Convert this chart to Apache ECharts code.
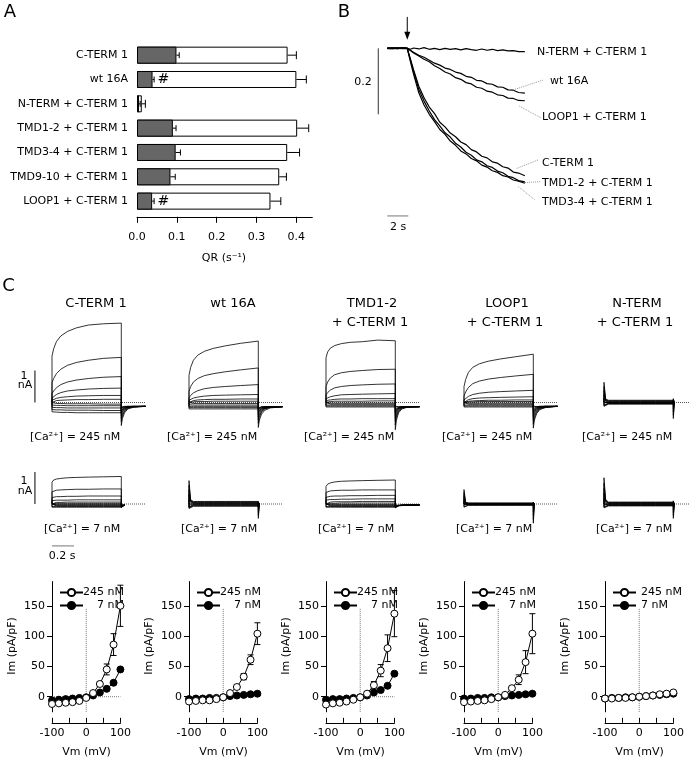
<!DOCTYPE html>
<html><head><meta charset="utf-8">
<script src="https://cdn.jsdelivr.net/npm/echarts@6/dist/echarts.min.js"></script>
<style>html,body{margin:0;padding:0;background:#fff}#c{width:700px;height:760px}</style>
</head><body><div id="c"></div>
<script>
const FONT = 'DejaVu Sans';
// ---------- Panel A ----------
const aCategories = ['C-TERM 1','wt 16A','N-TERM + C-TERM 1','TMD1-2 + C-TERM 1','TMD3-4 + C-TERM 1','TMD9-10 + C-TERM 1','LOOP1 + C-TERM 1'];
const aTotal    = [0.378, 0.400, 0.012, 0.402, 0.377, 0.357, 0.335];
const aTotalErr = [0.022, 0.025, 0.009, 0.029, 0.031, 0.018, 0.026];
const aFast     = [0.099, 0.039, 0.005, 0.090, 0.097, 0.084, 0.038];
const aFastErr  = [0.007, 0.004, 0.003, 0.008, 0.012, 0.012, 0.005];
const aHashCats = ['wt 16A', 'LOOP1 + C-TERM 1'];
const aHashX    = [0.066, 0.066];
const aTicks    = [0, 0.1, 0.2, 0.3, 0.4];
// ---------- Panel B ----------
const bTime = [0,0.5,1,1.5,1.9,2.2,2.5,3,3.5,4,4.5,5,5.5,6,6.5,7,7.5,8,8.5,9,9.5,10,10.5,11,11.5,12,12.5,13.1];
const bNterm = [0,0.001,-0.001,0.001,0,-0.003,0.001,-0.002,0.002,-0.003,0,-0.004,0,-0.003,-0.001,-0.005,-0.001,-0.004,-0.006,-0.002,-0.006,-0.003,-0.007,-0.005,-0.008,-0.007,-0.010,-0.010];
const bWt    = [0,-0.001,0.001,0,0,-0.006,-0.012,-0.021,-0.027,-0.036,-0.045,-0.051,-0.060,-0.064,-0.072,-0.076,-0.085,-0.088,-0.097,-0.099,-0.107,-0.109,-0.117,-0.118,-0.126,-0.127,-0.134,-0.136];
const bLoop  = [0.001,0,-0.001,0.001,0,-0.007,-0.014,-0.023,-0.033,-0.041,-0.053,-0.061,-0.072,-0.078,-0.089,-0.094,-0.104,-0.108,-0.118,-0.121,-0.130,-0.133,-0.141,-0.143,-0.151,-0.152,-0.158,-0.159];
const bCterm = [0,0.001,0,-0.001,0,-0.032,-0.065,-0.115,-0.150,-0.178,-0.198,-0.224,-0.238,-0.257,-0.268,-0.284,-0.292,-0.307,-0.314,-0.327,-0.332,-0.344,-0.348,-0.359,-0.363,-0.375,-0.378,-0.386];
const bTmd12 = [-0.001,0,0.001,0,0,-0.035,-0.070,-0.125,-0.160,-0.190,-0.216,-0.235,-0.256,-0.269,-0.288,-0.299,-0.315,-0.324,-0.338,-0.344,-0.356,-0.361,-0.372,-0.377,-0.388,-0.392,-0.401,-0.405];
const bTmd34 = [0,-0.001,0,0.001,0,-0.040,-0.078,-0.135,-0.172,-0.200,-0.222,-0.246,-0.261,-0.281,-0.294,-0.311,-0.320,-0.334,-0.341,-0.354,-0.360,-0.371,-0.376,-0.386,-0.390,-0.399,-0.403,-0.409];
// ---------- Panel C current families (nA), voltage steps -100..+100 mV ----------
const cVolt = [-100,-80,-60,-40,-20,0,20,40,60,80,100];
const cTime = [0,0,0.015,0.04,0.08,0.14,0.22,0.33,0.47,0.63,0.63,0.64,0.66,0.69,0.74,0.85];
const ct245 = [
 [0,-0.29,-0.30,-0.30,-0.31,-0.31,-0.32,-0.32,-0.32,-0.32,-0.14,-0.13,-0.12,-0.12,-0.12,-0.12],
 [0,-0.22,-0.22,-0.23,-0.23,-0.24,-0.24,-0.24,-0.25,-0.25,-0.16,-0.14,-0.13,-0.12,-0.12,-0.12],
 [0,-0.15,-0.15,-0.16,-0.16,-0.17,-0.17,-0.17,-0.17,-0.17,-0.19,-0.16,-0.14,-0.13,-0.12,-0.12],
 [0,-0.08,-0.08,-0.09,-0.09,-0.10,-0.10,-0.10,-0.10,-0.10,-0.22,-0.18,-0.15,-0.13,-0.12,-0.12],
 [0,-0.02,-0.02,-0.03,-0.03,-0.04,-0.04,-0.04,-0.05,-0.05,-0.26,-0.20,-0.16,-0.14,-0.13,-0.12],
 [0,0.03,0.04,0.06,0.07,0.08,0.09,0.09,0.10,0.10,-0.30,-0.23,-0.18,-0.14,-0.13,-0.12],
 [0,0.07,0.10,0.13,0.16,0.18,0.20,0.21,0.22,0.22,-0.35,-0.26,-0.19,-0.15,-0.13,-0.12],
 [0,0.14,0.19,0.25,0.31,0.36,0.39,0.42,0.44,0.45,-0.42,-0.30,-0.21,-0.16,-0.13,-0.12],
 [0,0.28,0.36,0.46,0.56,0.64,0.70,0.75,0.79,0.81,-0.50,-0.36,-0.24,-0.17,-0.13,-0.12],
 [0,0.62,0.75,0.90,1.04,1.16,1.25,1.32,1.38,1.41,-0.60,-0.42,-0.27,-0.18,-0.14,-0.12],
 [0,1.45,1.68,1.90,2.08,2.22,2.33,2.42,2.46,2.48,-0.72,-0.50,-0.32,-0.20,-0.15,-0.12]];
const wt245 = [
 [0,-0.20,-0.20,-0.20,-0.20,-0.20,-0.20,-0.20,-0.20,-0.20,-0.15,-0.14,-0.13,-0.13,-0.13,-0.13],
 [0,-0.16,-0.16,-0.16,-0.16,-0.16,-0.16,-0.16,-0.16,-0.16,-0.17,-0.15,-0.14,-0.13,-0.13,-0.13],
 [0,-0.12,-0.12,-0.12,-0.12,-0.12,-0.12,-0.12,-0.12,-0.12,-0.20,-0.17,-0.15,-0.14,-0.13,-0.13],
 [0,-0.07,-0.07,-0.08,-0.08,-0.08,-0.08,-0.08,-0.08,-0.08,-0.23,-0.19,-0.16,-0.14,-0.13,-0.13],
 [0,-0.03,-0.03,-0.03,-0.03,-0.03,-0.03,-0.03,-0.03,-0.03,-0.27,-0.22,-0.18,-0.15,-0.14,-0.13],
 [0,0.01,0.02,0.02,0.03,0.03,0.04,0.04,0.04,0.04,-0.32,-0.25,-0.19,-0.16,-0.14,-0.13],
 [0,0.03,0.05,0.06,0.08,0.09,0.10,0.10,0.11,0.11,-0.38,-0.29,-0.21,-0.17,-0.14,-0.13],
 [0,0.07,0.10,0.14,0.17,0.20,0.22,0.23,0.24,0.25,-0.45,-0.34,-0.24,-0.18,-0.14,-0.13],
 [0,0.15,0.22,0.30,0.37,0.43,0.47,0.50,0.53,0.56,-0.54,-0.40,-0.27,-0.19,-0.15,-0.13],
 [0,0.35,0.50,0.64,0.75,0.84,0.90,0.96,1.02,1.08,-0.65,-0.46,-0.30,-0.20,-0.15,-0.13],
 [0,0.85,1.10,1.32,1.48,1.60,1.69,1.77,1.85,1.92,-0.78,-0.55,-0.36,-0.24,-0.17,-0.13]];
const tm245 = [
 [0,-0.14,-0.14,-0.14,-0.14,-0.14,-0.14,-0.14,-0.14,-0.14,-0.15,-0.14,-0.13,-0.13,-0.13,-0.13],
 [0,-0.11,-0.11,-0.11,-0.11,-0.11,-0.11,-0.11,-0.11,-0.11,-0.17,-0.15,-0.14,-0.13,-0.13,-0.13],
 [0,-0.08,-0.08,-0.08,-0.08,-0.08,-0.08,-0.08,-0.08,-0.08,-0.20,-0.17,-0.15,-0.14,-0.13,-0.13],
 [0,-0.05,-0.05,-0.05,-0.05,-0.05,-0.05,-0.05,-0.05,-0.05,-0.24,-0.19,-0.16,-0.14,-0.13,-0.13],
 [0,-0.02,-0.02,-0.02,-0.02,-0.02,-0.02,-0.02,-0.02,-0.02,-0.28,-0.22,-0.17,-0.14,-0.13,-0.13],
 [0,0.02,0.03,0.03,0.04,0.04,0.04,0.04,0.05,0.05,-0.33,-0.25,-0.18,-0.15,-0.13,-0.13],
 [0,0.05,0.07,0.08,0.10,0.11,0.11,0.12,0.12,0.12,-0.40,-0.28,-0.20,-0.15,-0.14,-0.13],
 [0,0.12,0.15,0.18,0.21,0.24,0.25,0.26,0.27,0.28,-0.48,-0.33,-0.22,-0.16,-0.14,-0.13],
 [0,0.24,0.31,0.39,0.46,0.50,0.53,0.55,0.57,0.58,-0.58,-0.39,-0.25,-0.17,-0.14,-0.13],
 [0,0.50,0.64,0.77,0.87,0.93,0.97,1.00,1.03,1.04,-0.70,-0.46,-0.28,-0.18,-0.14,-0.13],
 [0,1.40,1.58,1.70,1.78,1.84,1.88,1.90,1.95,1.93,-0.85,-0.55,-0.32,-0.20,-0.15,-0.13]];
const lp245 = [
 [0,-0.14,-0.14,-0.14,-0.14,-0.14,-0.14,-0.14,-0.14,-0.14,-0.15,-0.14,-0.13,-0.12,-0.12,-0.12],
 [0,-0.11,-0.11,-0.11,-0.11,-0.11,-0.11,-0.11,-0.11,-0.11,-0.17,-0.15,-0.13,-0.12,-0.12,-0.12],
 [0,-0.08,-0.08,-0.08,-0.08,-0.08,-0.08,-0.08,-0.08,-0.08,-0.20,-0.17,-0.14,-0.13,-0.12,-0.12],
 [0,-0.05,-0.05,-0.05,-0.05,-0.05,-0.05,-0.05,-0.05,-0.05,-0.24,-0.19,-0.15,-0.13,-0.12,-0.12],
 [0,-0.02,-0.02,-0.02,-0.02,-0.02,-0.02,-0.02,-0.02,-0.02,-0.28,-0.22,-0.17,-0.14,-0.12,-0.12],
 [0,0.01,0.02,0.02,0.02,0.03,0.03,0.03,0.03,0.03,-0.34,-0.25,-0.19,-0.15,-0.13,-0.12],
 [0,0.02,0.03,0.04,0.05,0.06,0.07,0.07,0.08,0.08,-0.40,-0.29,-0.21,-0.16,-0.13,-0.12],
 [0,0.04,0.06,0.09,0.12,0.14,0.15,0.16,0.17,0.18,-0.48,-0.34,-0.24,-0.17,-0.14,-0.12],
 [0,0.08,0.13,0.19,0.25,0.29,0.32,0.34,0.36,0.38,-0.57,-0.40,-0.27,-0.18,-0.14,-0.12],
 [0,0.20,0.33,0.47,0.59,0.67,0.73,0.78,0.83,0.88,-0.68,-0.47,-0.31,-0.20,-0.15,-0.12],
 [0,0.50,0.72,0.94,1.10,1.21,1.29,1.36,1.43,1.51,-0.80,-0.55,-0.35,-0.22,-0.16,-0.12]];
const nt245 = [
 [0,-0.12,-0.06,-0.05,-0.05,-0.05,-0.05,-0.05,-0.05,-0.05,0.12,0,null,null,null,null],
 [0,-0.10,-0.05,-0.04,-0.04,-0.04,-0.04,-0.04,-0.04,-0.04,0.10,0,null,null,null,null],
 [0,-0.08,-0.04,-0.03,-0.03,-0.03,-0.03,-0.03,-0.03,-0.03,0.08,0,null,null,null,null],
 [0,-0.06,-0.03,-0.02,-0.02,-0.02,-0.02,-0.02,-0.02,-0.02,0.06,0,null,null,null,null],
 [0,-0.03,-0.02,-0.01,-0.01,-0.01,-0.01,-0.01,-0.01,-0.01,0.04,0,null,null,null,null],
 [0,0.03,0.01,0.00,0.00,0.00,0.00,0.00,0.00,0.00,-0.02,0,null,null,null,null],
 [0,0.13,0.03,0.012,0.012,0.012,0.012,0.012,0.012,0.012,-0.10,0,null,null,null,null],
 [0,0.25,0.05,0.025,0.025,0.025,0.025,0.025,0.025,0.025,-0.20,0,null,null,null,null],
 [0,0.38,0.07,0.04,0.04,0.04,0.04,0.04,0.04,0.04,-0.30,0,null,null,null,null],
 [0,0.50,0.09,0.055,0.055,0.055,0.055,0.055,0.055,0.055,-0.40,0,null,null,null,null],
 [0,0.63,0.11,0.07,0.07,0.07,0.07,0.07,0.07,0.07,-0.50,0,null,null,null,null]];
const ct7 = [
 [0,-0.10,-0.10,-0.10,-0.10,-0.10,-0.10,-0.10,-0.10,-0.10,-0.06,-0.04,-0.03,null,null,null],
 [0,-0.08,-0.08,-0.08,-0.08,-0.08,-0.08,-0.08,-0.08,-0.08,-0.07,-0.04,-0.03,null,null,null],
 [0,-0.06,-0.06,-0.06,-0.06,-0.06,-0.06,-0.06,-0.06,-0.06,-0.07,-0.04,-0.03,null,null,null],
 [0,-0.04,-0.04,-0.04,-0.04,-0.04,-0.04,-0.04,-0.04,-0.04,-0.08,-0.05,-0.03,null,null,null],
 [0,-0.02,-0.02,-0.02,-0.02,-0.02,-0.02,-0.02,-0.02,-0.02,-0.08,-0.05,-0.03,null,null,null],
 [0,0.01,0.02,0.02,0.02,0.02,0.02,0.02,0.02,0.02,-0.09,-0.05,-0.03,null,null,null],
 [0,0.04,0.05,0.05,0.05,0.06,0.06,0.06,0.06,0.06,-0.09,-0.05,-0.03,null,null,null],
 [0,0.10,0.11,0.12,0.12,0.12,0.13,0.13,0.13,0.13,-0.09,-0.05,-0.03,null,null,null],
 [0,0.20,0.22,0.23,0.23,0.24,0.24,0.25,0.25,0.25,-0.10,-0.06,-0.03,null,null,null],
 [0,0.38,0.41,0.43,0.44,0.45,0.46,0.46,0.47,0.47,-0.10,-0.06,-0.03,null,null,null],
 [0,0.68,0.75,0.78,0.80,0.82,0.83,0.84,0.85,0.86,-0.11,-0.06,-0.03,null,null,null]];
const wt7 = [
 [0,-0.14,-0.08,-0.07,-0.07,-0.07,-0.07,-0.07,-0.07,-0.07,0.07,0,null,null,null,null],
 [0,-0.12,-0.065,-0.055,-0.055,-0.055,-0.055,-0.055,-0.055,-0.055,0.06,0,null,null,null,null],
 [0,-0.10,-0.05,-0.04,-0.04,-0.04,-0.04,-0.04,-0.04,-0.04,0.05,0,null,null,null,null],
 [0,-0.08,-0.035,-0.025,-0.025,-0.025,-0.025,-0.025,-0.025,-0.025,0.04,0,null,null,null,null],
 [0,-0.05,-0.02,-0.01,-0.01,-0.01,-0.01,-0.01,-0.01,-0.01,0.02,0,null,null,null,null],
 [0,0.03,0.02,0.005,0.005,0.005,0.005,0.005,0.005,0.005,-0.04,0,null,null,null,null],
 [0,0.16,0.05,0.02,0.02,0.02,0.02,0.02,0.02,0.02,-0.11,0,null,null,null,null],
 [0,0.30,0.07,0.035,0.035,0.035,0.035,0.035,0.035,0.035,-0.19,0,null,null,null,null],
 [0,0.44,0.09,0.05,0.05,0.05,0.05,0.05,0.05,0.05,-0.27,0,null,null,null,null],
 [0,0.58,0.11,0.065,0.065,0.065,0.065,0.065,0.065,0.065,-0.36,0,null,null,null,null],
 [0,0.73,0.13,0.08,0.08,0.08,0.08,0.08,0.08,0.08,-0.45,0,null,null,null,null]];
const tm7 = [
 [0,-0.10,-0.10,-0.10,-0.10,-0.10,-0.10,-0.10,-0.10,-0.10,-0.06,-0.05,-0.04,-0.04,-0.03,-0.03],
 [0,-0.08,-0.08,-0.08,-0.08,-0.08,-0.08,-0.08,-0.08,-0.08,-0.07,-0.05,-0.04,-0.04,-0.03,-0.03],
 [0,-0.06,-0.06,-0.06,-0.06,-0.06,-0.06,-0.06,-0.06,-0.06,-0.07,-0.05,-0.04,-0.04,-0.03,-0.03],
 [0,-0.04,-0.04,-0.04,-0.04,-0.04,-0.04,-0.04,-0.04,-0.04,-0.08,-0.06,-0.05,-0.04,-0.03,-0.03],
 [0,-0.02,-0.02,-0.02,-0.02,-0.02,-0.02,-0.02,-0.02,-0.02,-0.08,-0.06,-0.05,-0.04,-0.03,-0.03],
 [0,0.01,0.02,0.02,0.02,0.03,0.03,0.03,0.03,0.03,-0.09,-0.06,-0.05,-0.04,-0.03,-0.03],
 [0,0.05,0.06,0.06,0.07,0.07,0.07,0.08,0.08,0.08,-0.09,-0.06,-0.05,-0.04,-0.03,-0.03],
 [0,0.12,0.13,0.14,0.14,0.15,0.15,0.16,0.16,0.16,-0.10,-0.07,-0.05,-0.04,-0.04,-0.03],
 [0,0.21,0.23,0.24,0.25,0.25,0.26,0.26,0.27,0.27,-0.10,-0.07,-0.05,-0.04,-0.04,-0.03],
 [0,0.36,0.39,0.41,0.42,0.43,0.43,0.44,0.44,0.44,-0.11,-0.07,-0.05,-0.04,-0.04,-0.03],
 [0,0.55,0.62,0.66,0.69,0.71,0.72,0.73,0.74,0.75,-0.12,-0.08,-0.06,-0.05,-0.04,-0.03]];
const lp7 = [
 [0,-0.10,-0.05,-0.04,-0.04,-0.04,-0.04,-0.04,-0.04,-0.04,0.06,0,null,null,null,null],
 [0,-0.08,-0.04,-0.032,-0.032,-0.032,-0.032,-0.032,-0.032,-0.032,0.05,0,null,null,null,null],
 [0,-0.06,-0.03,-0.024,-0.024,-0.024,-0.024,-0.024,-0.024,-0.024,0.04,0,null,null,null,null],
 [0,-0.04,-0.02,-0.016,-0.016,-0.016,-0.016,-0.016,-0.016,-0.016,0.03,0,null,null,null,null],
 [0,-0.02,-0.01,-0.008,-0.008,-0.008,-0.008,-0.008,-0.008,-0.008,0.02,0,null,null,null,null],
 [0,0.02,0.005,0,0,0,0,0,0,0,-0.02,0,null,null,null,null],
 [0,0.09,0.015,0.006,0.006,0.006,0.006,0.006,0.006,0.006,-0.12,0,null,null,null,null],
 [0,0.18,0.025,0.012,0.012,0.012,0.012,0.012,0.012,0.012,-0.24,0,null,null,null,null],
 [0,0.27,0.035,0.018,0.018,0.018,0.018,0.018,0.018,0.018,-0.36,0,null,null,null,null],
 [0,0.36,0.045,0.024,0.024,0.024,0.024,0.024,0.024,0.024,-0.48,0,null,null,null,null],
 [0,0.45,0.055,0.03,0.03,0.03,0.03,0.03,0.03,0.03,-0.60,0,null,null,null,null]];
const nt7 = [
 [0,-0.12,-0.08,-0.06,-0.06,-0.06,-0.06,-0.06,-0.06,-0.06,0.10,0,null,null,null,null],
 [0,-0.10,-0.065,-0.048,-0.048,-0.048,-0.048,-0.048,-0.048,-0.048,0.08,0,null,null,null,null],
 [0,-0.08,-0.05,-0.036,-0.036,-0.036,-0.036,-0.036,-0.036,-0.036,0.06,0,null,null,null,null],
 [0,-0.06,-0.035,-0.024,-0.024,-0.024,-0.024,-0.024,-0.024,-0.024,0.05,0,null,null,null,null],
 [0,-0.03,-0.02,-0.012,-0.012,-0.012,-0.012,-0.012,-0.012,-0.012,0.03,0,null,null,null,null],
 [0,0.03,0.01,0,0,0,0,0,0,0,-0.02,0,null,null,null,null],
 [0,0.17,0.04,0.012,0.012,0.012,0.012,0.012,0.012,0.012,-0.09,0,null,null,null,null],
 [0,0.33,0.07,0.024,0.024,0.024,0.024,0.024,0.024,0.024,-0.18,0,null,null,null,null],
 [0,0.49,0.10,0.036,0.036,0.036,0.036,0.036,0.036,0.036,-0.27,0,null,null,null,null],
 [0,0.65,0.12,0.048,0.048,0.048,0.048,0.048,0.048,0.048,-0.36,0,null,null,null,null],
 [0,0.82,0.14,0.06,0.06,0.06,0.06,0.06,0.06,0.06,-0.45,0,null,null,null,null]];
const cTitles = [['C-TERM 1'], ['wt 16A'], ['TMD1-2','+ C-TERM 1'], ['LOOP1','+ C-TERM 1'], ['N-TERM','+ C-TERM 1']];
// ---------- IV curves ----------
const ivV = [-100,-80,-60,-40,-20,0,20,40,60,80,100];
const iv245 = [
 [-12,-11,-10,-9,-7,-2,6,21,45,86,150],
 [-8,-7,-6,-6,-4,-1,6,16,33,61,104],
 [-13,-11,-10,-8,-5,-1,5,19,43,80,137],
 [-9,-8,-7,-6,-4,-1,3,14,28,57,104],
 [-3,-3,-2,-2,-1,0,1,2,4,5,7]];
const iv245Err = [
 [0,0,0,0,0,0,2,4,9,18,34],
 [0,0,0,0,0,0,0,3,5,8,18],
 [0,0,0,0,0,0,2,6,10,22,38],
 [0,0,0,0,0,0,0,3,8,19,33],
 [0,0,0,0,0,0,0,0,0,0,0]];
const iv7 = [
 [-6,-5,-4,-3,-2,-1,2,7,13,23,45],
 [-4,-3,-3,-2,-2,-1,1,2,3,4,5],
 [-5,-4,-4,-3,-2,-1,2,7,11,18,38],
 [-3,-3,-2,-2,-1,-1,1,2,3,4,5],
 [-3,-2,-2,-1,-1,0,1,2,3,4,5]];
const ivYTicks = [0,50,100,150];

// ---------- layout ----------
const famX = [52, 189, 326, 464, 604];
const stepEnd = 0.63;
const grids = [], xAxes = [], yAxes = [], series = [], graphic = [], legends = [];
function T(text, x, y, o) {
  o = o || {};
  graphic.push({type:'text', x:x, y:y, rotation:o.rot||0, z:100, silent:true,
    style:{text:text, fill:'#000', fontFamily:FONT, fontSize:o.size||11, align:o.align||'center', verticalAlign:'middle'}});
}
// grid 0 : panel A
grids.push({left:137, top:43, width:175.3, height:170.3, outerBoundsMode:'none'});
xAxes.push({type:'value', gridIndex:0, min:0, max:0.44, offset:3.5,
  axisLine:{show:true, lineStyle:{color:'#000', width:1}},
  axisTick:{show:true, length:6, customValues:aTicks, lineStyle:{color:'#000'}},
  axisLabel:{customValues:aTicks, formatter:v=>v.toFixed(1), color:'#000', fontSize:11, margin:15, fontFamily:FONT},
  splitLine:{show:false}});
yAxes.push({type:'category', gridIndex:0, data:aCategories, inverse:true,
  axisLine:{show:false}, axisTick:{show:false},
  axisLabel:{color:'#000', fontSize:11, margin:9, fontFamily:FONT}, splitLine:{show:false}});
series.push({type:'bar', xAxisIndex:0, yAxisIndex:0, data:aTotal, barWidth:17, barGap:'-100%', z:2,
  itemStyle:{color:'#fff', borderColor:'#000', borderWidth:1}});
series.push({type:'bar', xAxisIndex:0, yAxisIndex:0, data:aFast, barWidth:17, barGap:'-100%', z:3,
  itemStyle:{color:'#666', borderColor:'#000', borderWidth:1}});
function hErr(vals, errs, cap) {
  return {type:'custom', xAxisIndex:0, yAxisIndex:0, z:4, encode:{x:0, y:1},
    data: vals.map((v,i)=>[v, i, errs[i]]),
    renderItem:(p, api)=>{
      const v=api.value(0), c=api.value(1), e=api.value(2);
      const a=api.coord([v,c]), b=api.coord([v+e,c]);
      return {type:'group', children:[
        {type:'line', shape:{x1:a[0],y1:a[1],x2:b[0],y2:b[1]}, style:{stroke:'#000', lineWidth:1}},
        {type:'line', shape:{x1:b[0],y1:b[1]-cap,x2:b[0],y2:b[1]+cap}, style:{stroke:'#000', lineWidth:1}}]};
    }};
}
series.push(hErr(aTotal, aTotalErr, 4));
series.push(hErr(aFast, aFastErr, 3));
// '#' significance marks, placed through the axes
series.push({type:'custom', xAxisIndex:0, yAxisIndex:0, z:6, encode:{x:0, y:1},
  data: aHashCats.map((c,i)=>[aHashX[i], aCategories.indexOf(c)]),
  renderItem:(p, api)=>{
    const pt = api.coord([api.value(0), api.value(1)]);
    return {type:'text', x:pt[0], y:pt[1], style:{text:'#', fill:'#000', fontSize:14, fontFamily:FONT, align:'center', verticalAlign:'middle'}};
  }});

// grid 1 : panel B
grids.push({left:355.8, top:15.3, width:199.5, height:217.8, outerBoundsMode:'none'});
xAxes.push({type:'value', gridIndex:1, min:-3, max:16, show:false});
yAxes.push({type:'value', gridIndex:1, min:-0.56, max:0.1, show:false});
function bLine(vals, w, color, type) {
  series.push({type:'line', xAxisIndex:1, yAxisIndex:1, symbol:'none', clip:false, z:3,
    data: vals, lineStyle:{color:color||'#000', width:w||1.2, type:type||'solid'}, silent:true});
}
[bNterm, bWt, bLoop, bCterm, bTmd12, bTmd34].forEach(arr => bLine(bTime.map((t,i)=>[t, arr[i]])));
bLine([[-0.86,0],[-0.86,-0.2]], 1, '#333');
bLine([[0,-0.508],[2,-0.508]], 1, '#777');
[[[12.0,-0.126],[14.86,-0.096]], [[12.57,-0.175],[14.64,-0.211]], [[12.32,-0.364],[14.38,-0.338]],
 [[13.11,-0.407],[14.64,-0.404]], [[12.48,-0.419],[14.07,-0.46]]].forEach(seg => bLine(seg, 1, '#999', 'dotted'));
series.push({type:'custom', xAxisIndex:1, yAxisIndex:1, z:5, encode:{x:0,y:1}, data:[[1.9, 0.095, 0.026]],
  renderItem:(p, api)=>{
    const top=api.coord([api.value(0), api.value(1)]), tip=api.coord([api.value(0), api.value(2)]);
    return {type:'group', children:[
      {type:'line', shape:{x1:top[0],y1:top[1],x2:tip[0],y2:tip[1]-5}, style:{stroke:'#000', lineWidth:1}},
      {type:'polygon', shape:{points:[[tip[0],tip[1]],[tip[0]-3,tip[1]-8],[tip[0]+3,tip[1]-8]]}, style:{fill:'#000'}}]};
  }});

// grids 2..11 : current families
const fams245 = [ct245, wt245, tm245, lp245, nt245];
const fams7 = [ct7, wt7, tm7, lp7, nt7];
const pxPerNA = 32, pxPerS = 110;
function famGrid(startX, base, yMin, yMax) {
  const gi = grids.length;
  grids.push({left:startX - 0.2*pxPerS, width:1.1*pxPerS, top: base - yMax*pxPerNA, height:(yMax-yMin)*pxPerNA, outerBoundsMode:'none'});
  xAxes.push({type:'value', gridIndex:gi, min:-0.2, max:0.9, show:false});
  yAxes.push({type:'value', gridIndex:gi, min:yMin, max:yMax, show:false});
  return gi;
}
function addFamily(gi, fam, dotEnd) {
  series.push({type:'line', xAxisIndex:gi, yAxisIndex:gi, symbol:'none', clip:false, z:1, silent:true,
    data:[[0,0],[dotEnd,0]], lineStyle:{color:'#555', width:1, type:'dotted'}});
  fam.forEach(tr => series.push({type:'line', xAxisIndex:gi, yAxisIndex:gi, symbol:'none', clip:false, z:2, silent:true,
    connectNulls:false, data: cTime.map((t,i)=>[t, tr[i]]), lineStyle:{color:'#000', width:0.8}}));
}
const row1 = [], row2 = [];
famX.forEach((x,k) => { const g = famGrid(x, 402.5, -1.0, 2.7); row1.push(g); addFamily(g, fams245[k], k===4?0.78:0.85); });
famX.forEach((x,k) => { const g = famGrid(x, 504, -1.5, 1.0); row2.push(g); addFamily(g, fams7[k], k===4?0.78:0.85); });
function cBar(gi, pts, color) {
  series.push({type:'line', xAxisIndex:gi, yAxisIndex:gi, symbol:'none', clip:false, silent:true, z:2,
    data:pts, lineStyle:{color:color, width:1}});
}
cBar(row1[0], [[-0.155,0],[-0.155,1]], '#000');
cBar(row2[0], [[-0.155,0],[-0.155,1]], '#000');
cBar(row2[0], [[0,-1.31],[0.2,-1.31]], '#777');

// grids 12..16 : IV plots
const ivLeft = [52, 189, 326, 464, 605];
const ivPxX = 0.342, ivPxY = 0.606, ivZeroY = 696.7;
ivLeft.forEach((L, k) => {
  const gi = grids.length;
  grids.push({left:L, width:200*ivPxX, top: ivZeroY - 190*ivPxY, height:215*ivPxY, outerBoundsMode:'none'});
  xAxes.push({type:'value', gridIndex:gi, min:-100, max:100, offset:11,
    axisLine:{show:true, onZero:false, lineStyle:{color:'#000', width:1}},
    axisTick:{show:true, inside:true, length:5, customValues:[-100,-50,0,50,100], lineStyle:{color:'#000'}},
    axisLabel:{customValues:[-100,0,100], color:'#000', fontSize:11, margin:5, fontFamily:FONT},
    splitLine:{show:false}});
  yAxes.push({type:'value', gridIndex:gi, min:-25, max:190,
    axisLine:{show:true, onZero:false, lineStyle:{color:'#000', width:1}},
    axisTick:{show:true, length:5, customValues:ivYTicks, lineStyle:{color:'#000'}},
    axisLabel:{customValues:ivYTicks, color:'#000', fontSize:11, margin:7, fontFamily:FONT},
    splitLine:{show:false}});
  series.push({type:'line', xAxisIndex:gi, yAxisIndex:gi, symbol:'none', silent:true, z:1,
    data:[[0,-25],[0,146]], lineStyle:{color:'#777', width:1, type:'dotted'}});
  series.push({type:'line', xAxisIndex:gi, yAxisIndex:gi, symbol:'none', silent:true, z:1,
    data:[[-100,0],[100,0]], lineStyle:{color:'#777', width:1, type:'dotted'}});
  series.push({type:'custom', xAxisIndex:gi, yAxisIndex:gi, z:2, clip:false, encode:{x:0,y:1},
    data: ivV.map((v,j)=>[v, iv245[k][j], iv245Err[k][j]]).filter(d=>d[2]>0),
    renderItem:(p, api)=>{
      const x=api.value(0), y=api.value(1), e=api.value(2);
      const a=api.coord([x,y+e]), b=api.coord([x,y-e]), w=3;
      return {type:'group', children:[
        {type:'line', shape:{x1:a[0],y1:a[1],x2:b[0],y2:b[1]}, style:{stroke:'#000',lineWidth:1}},
        {type:'line', shape:{x1:a[0]-w,y1:a[1],x2:a[0]+w,y2:a[1]}, style:{stroke:'#000',lineWidth:1}},
        {type:'line', shape:{x1:b[0]-w,y1:b[1],x2:b[0]+w,y2:b[1]}, style:{stroke:'#000',lineWidth:1}}]};
    }});
  series.push({type:'line', name:'7 nM', xAxisIndex:gi, yAxisIndex:gi, z:3, symbol:'circle', symbolSize:7,
    data: ivV.map((v,j)=>[v, iv7[k][j]]), itemStyle:{color:'#000', borderColor:'#000', borderWidth:1},
    lineStyle:{color:'#000', width:1}});
  series.push({type:'line', name:'245 nM', xAxisIndex:gi, yAxisIndex:gi, z:4, symbol:'circle', symbolSize:7,
    data: ivV.map((v,j)=>[v, iv245[k][j]]), itemStyle:{color:'#fff', borderColor:'#000', borderWidth:1},
    lineStyle:{color:'#000', width:1}});
  const lg = {left:L+2, top:582, orient:'vertical', itemWidth:23, itemHeight:9, itemGap:2, selectedMode:false,
    data:['245 nM','7 nM'], textStyle:{fontSize:11, color:'#000', fontFamily:FONT}};
  if (k < 4) { lg.formatter = n => '{r|' + n + '}'; lg.textStyle.rich = {r:{width:36, align:'right', fontSize:11, fontFamily:FONT, color:'#000'}}; }
  legends.push(lg);
  T('Im (pA/pF)', L-40, 646, {rot:Math.PI/2});
  T('Vm (mV)', L+34.5, 752);
});

// ---------- texts ----------
T('A', 10, 12, {size:18}); T('B', 344, 12, {size:18}); T('C', 8.5, 286, {size:18});
T('QR (s⁻¹)', 224, 258);
const bLabels = [['N-TERM + C-TERM 1',537,51.7],['wt 16A',550,81],['LOOP1 + C-TERM 1',542,117.3],
  ['C-TERM 1',542,163.3],['TMD1-2 + C-TERM 1',542,182.7],['TMD3-4 + C-TERM 1',542,201.7]];
bLabels.forEach(b => T(b[0], b[1], b[2], {align:'left'}));
T('0.2', 363, 82); T('2 s', 398, 227);
const titleX = [96, 233, 372, 507, 637];
cTitles.forEach((t,k) => { T(t[0], titleX[k], 304, {size:13}); if (t[1]) T(t[1], titleX[k]-2, 323, {size:13}); });
famX.forEach(x => { T('[Ca²⁺] = 245 nM', x + stepEnd*pxPerS - 1, 437, {align:'right'}); T('[Ca²⁺] = 7 nM', x + stepEnd*pxPerS - 1, 529, {align:'right'}); });
T('1', 24, 376); T('nA', 25, 385.5); T('1', 24, 481.5); T('nA', 25, 491);
T('0.2 s', 62, 556);

const chart = echarts.init(document.getElementById('c'), null, {renderer:'canvas'});
chart.setOption({
  animation:false, backgroundColor:'#fff',
  textStyle:{fontFamily:FONT},
  grid:grids, xAxis:xAxes, yAxis:yAxes, series:series, legend:legends, graphic:graphic
});
</script></body></html>
